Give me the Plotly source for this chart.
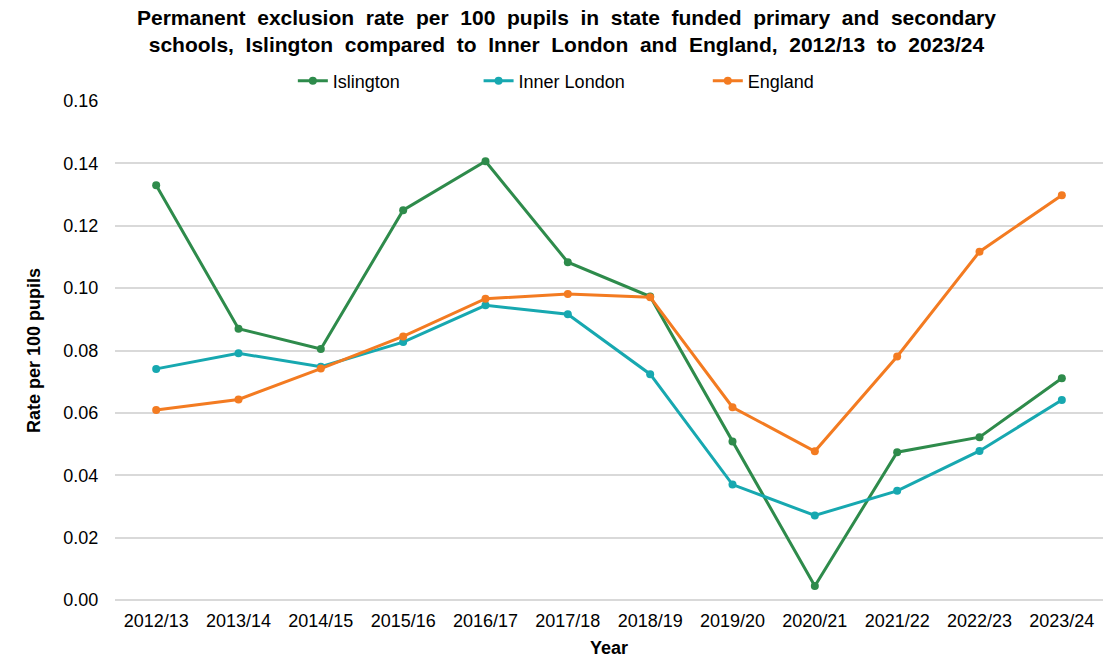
import plotly.graph_objects as go

years = ["2012/13", "2013/14", "2014/15", "2015/16", "2016/17", "2017/18",
         "2018/19", "2019/20", "2020/21", "2021/22", "2022/23", "2023/24"]

islington = [0.133, 0.087, 0.0805, 0.125, 0.1407, 0.1083, 0.0973, 0.0508, 0.0045, 0.0474, 0.0522, 0.0711]
inner_london = [0.0741, 0.0791, 0.0748, 0.0827, 0.0945, 0.0916, 0.0724, 0.0370, 0.0271, 0.0350, 0.0478, 0.0641]
england = [0.0609, 0.0643, 0.0742, 0.0845, 0.0966, 0.0981, 0.0971, 0.0618, 0.0477, 0.0781, 0.1117, 0.1298]

y_ticks = [0.00, 0.02, 0.04, 0.06, 0.08, 0.10, 0.12, 0.14, 0.16]

# name, values, colour, legend id, legend x (paper)
series = [
    ("Islington", islington, "#2E8B4B", "legend", 0.180),
    ("Inner London", inner_london, "#17A8B0", "legend2", 0.368),
    ("England", england, "#F37B21", "legend3", 0.600),
]

font_family = "Liberation Sans, Arial, sans-serif"

fig = go.Figure()
legend_layouts = {}
for name, vals, color, leg, lx in series:
    fig.add_trace(go.Scatter(
        x=years, y=vals, name=name, mode="lines+markers",
        line=dict(color=color, width=3),
        marker=dict(color=color, size=8),
        legend=leg,
    ))
    legend_layouts[leg] = dict(
        x=lx, xanchor="left", y=1.040, yanchor="middle",
        orientation="h", font=dict(size=18, color="#000000"),
        bgcolor="rgba(0,0,0,0)", borderwidth=0,
    )

title_text = ("<b>Permanent\u00a0 exclusion\u00a0 rate\u00a0 per\u00a0 100\u00a0 pupils\u00a0 in\u00a0 state\u00a0 funded\u00a0 "
              "primary\u00a0 and\u00a0 secondary<br>schools,\u00a0 Islington\u00a0 compared\u00a0 to\u00a0 Inner\u00a0 "
              "London\u00a0 and\u00a0 England,\u00a0 2012/13\u00a0 to\u00a0 2023/24</b>")

fig.update_layout(
    width=1119, height=658,
    margin=dict(l=115, r=16, t=101, b=58),
    paper_bgcolor="white", plot_bgcolor="white",
    font=dict(family=font_family, size=18, color="#000000"),
    showlegend=True,
    annotations=[dict(
        text=title_text, xref="paper", yref="paper",
        x=0.4565, xanchor="center", y=1.140, yanchor="middle",
        showarrow=False, font=dict(size=21, color="#000000"),
    )],
    **legend_layouts,
)

fig.update_xaxes(
    type="category", range=[-0.5, 11.5], automargin=False,
    showgrid=False, showline=False,
    ticks="outside", ticklen=4, tickcolor="rgba(0,0,0,0)",
    title=dict(text="<b>Year</b>", font=dict(size=18), standoff=11),
    tickfont=dict(size=18),
)
fig.update_yaxes(
    range=[0, 0.16], tickvals=y_ticks, tickformat=".2f", automargin=False,
    showgrid=True, gridcolor="#D9D9D9", gridwidth=1.5,
    zeroline=True, zerolinecolor="#D9D9D9", zerolinewidth=1.5,
    showline=False,
    ticks="outside", ticklen=12, tickcolor="rgba(0,0,0,0)",
    title=dict(text="<b>Rate per 100 pupils</b>", font=dict(size=18), standoff=18),
    tickfont=dict(size=18),
)

fig.write_html("out.html")
